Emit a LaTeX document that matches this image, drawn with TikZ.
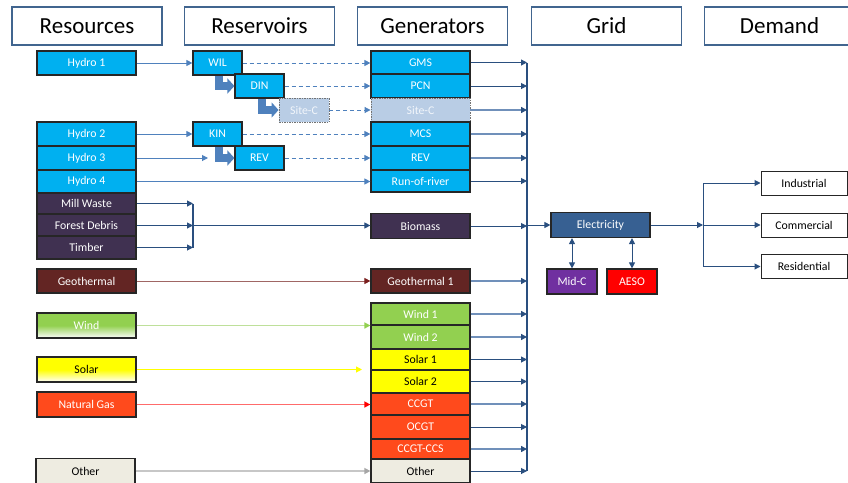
\documentclass[tikz,border=0pt]{standalone}
\usepackage{fontspec}
\setmainfont{Carlito}
\usetikzlibrary{arrows.meta}
\definecolor{hydro}{HTML}{00B0F0}
\definecolor{bio}{HTML}{403151}
\definecolor{geo}{HTML}{632523}
\definecolor{windg}{HTML}{92D050}
\definecolor{solary}{HTML}{FFFF00}
\definecolor{gas}{HTML}{FF4A1C}
\definecolor{othf}{HTML}{EEECE1}
\definecolor{sitecf}{HTML}{B9CDE5}
\definecolor{sitect}{HTML}{F2F6FB}
\definecolor{steel}{HTML}{4F81BD}
\definecolor{navy}{HTML}{2A4F7F}
\definecolor{navylt}{HTML}{7090BA}
\definecolor{headc}{HTML}{41658F}
\definecolor{elecf}{HTML}{376092}
\definecolor{midcf}{HTML}{7030A0}
\definecolor{geoline}{HTML}{A06664}
\definecolor{windline}{HTML}{BEE09A}
\definecolor{gasline}{HTML}{FF6B6B}
\begin{document}
\begin{tikzpicture}[x=1pt,y=-1pt,
  tip/.style={-{Triangle[width=6pt,length=6pt]}},
  box/.style={draw=black!85, line width=1.2pt, inner sep=0pt, minimum height=24pt,
    text=white, font=\fontsize{11.8}{13}\selectfont},
  res/.style={box, minimum width=99pt},
  gen/.style={box, minimum width=99pt},
  resv/.style={box, minimum width=49pt, fill=hydro},
  sitec/.style={fill=sitecf, draw=black!55, line width=0.9pt, dash pattern=on 1.5pt off 1pt, text=sitect},
  head/.style={draw=headc, line width=1.8pt, fill=white, minimum width=150pt,
    minimum height=38pt, inner sep=0pt, font=\fontsize{23}{26}\selectfont, text=black},
  dem/.style={draw=black!85, line width=1pt, fill=white, minimum width=86pt,
    minimum height=24pt, inner sep=0pt, font=\fontsize{11.8}{13}\selectfont},
  inln/.style={draw=steel, line width=1pt, tip},
  dsh/.style={draw=steel, line width=1pt, dashed, dash pattern=on 4pt off 3pt, tip},
  dk/.style={draw=navy, line width=1pt, -{Triangle[width=6pt,length=6pt]}},
  lt/.style={draw=navylt, line width=1.4pt, -{Triangle[width=6pt,length=6pt,color=navy]}},
  blockarrow/.style={draw=steel, line width=7.5pt, line join=miter, -{Triangle[width=15pt,length=7pt]}}
]
\useasboundingbox (0,0) rectangle (848,482);

% headers
\node[head] (hres) at (87,26) {Resources};
\node[head] (hresv) at (259.5,26) {Reservoirs};
\node[head] (hgen) at (432.5,26) {Generators};
\node[head] (hgrid) at (606.5,26) {Grid};
\node[head] (hdem) at (779.5,26) {Demand};

% resources
\node[res, fill=hydro] (h1) at (86.5,63) {Hydro 1};
\node[res, fill=hydro] (h2) at (86.5,134) {Hydro 2};
\node[res, fill=hydro] (h3) at (86.5,158) {Hydro 3};
\node[res, fill=hydro, minimum height=23pt] (h4) at (86.5,181.5) {Hydro 4};
\node[res, fill=bio, minimum height=21pt] (mill) at (86.5,203.5) {Mill Waste};
\node[res, fill=bio, minimum height=22pt] (forest) at (86.5,225.5) {Forest Debris};
\node[res, fill=bio, minimum height=23pt] (timber) at (86.5,247.5) {Timber};
\node[res, fill=geo] (geo) at (86.5,281) {Geothermal};
\node[res, top color=windg, bottom color=white, middle color=windg, minimum height=25pt] (wind) at (86.5,325.5) {Wind};
\node[res, top color=solary, bottom color=white, middle color=solary, text=black, minimum height=25pt] (solar) at (86.5,369.5) {Solar};
\node[res, fill=gas, minimum height=25pt] (gas) at (86.5,404.5) {Natural Gas};
\node[res, fill=othf, text=black, minimum height=25pt] (oth) at (85.5,471) {Other};

% reservoirs
\node[resv] (wil) at (217.5,63) {WIL};
\node[resv] (din) at (259.5,86) {DIN};
\node[resv, sitec, minimum width=50pt] (sitecr) at (304,110) {Site-C};
\node[resv] (kin) at (217.5,134) {KIN};
\node[resv] (revr) at (259.5,158) {REV};

% generators
\node[gen, fill=hydro, minimum height=23pt] (gms) at (420.5,62.5) {GMS};
\node[gen, fill=hydro] (pcn) at (420.5,86) {PCN};
\node[gen, sitec] (sitecg) at (420.5,110) {Site-C};
\node[gen, fill=hydro] (mcs) at (420.5,134) {MCS};
\node[gen, fill=hydro] (revg) at (420.5,158) {REV};
\node[gen, fill=hydro, minimum height=22pt] (ror) at (420.5,181) {Run-of-river};
\node[gen, fill=bio, minimum height=25pt] (biomass) at (420.5,226) {Biomass};
\node[gen, fill=geo] (geo1) at (420.5,281) {Geothermal 1};
\node[gen, fill=windg, minimum height=22pt] (wind1) at (420.5,314) {Wind 1};
\node[gen, fill=windg] (wind2) at (420.5,337) {Wind 2};
\node[gen, fill=solary, text=black, minimum height=21pt] (solar1) at (420.5,359.5) {Solar 1};
\node[gen, fill=solary, text=black, minimum height=23pt] (solar2) at (420.5,381.5) {Solar 2};
\node[gen, fill=gas, minimum height=22pt] (ccgt) at (420.5,404) {CCGT};
\node[gen, fill=gas] (ocgt) at (420.5,427) {OCGT};
\node[gen, fill=gas, minimum height=20pt] (ccs) at (420.5,449) {CCGT-CCS};
\node[gen, fill=othf, text=black] (othg) at (420.5,471) {Other};

% grid
\node[box, fill=elecf, minimum width=99pt, minimum height=25pt] (elec) at (600.5,225) {Electricity};
\node[box, fill=midcf, minimum width=50pt, minimum height=25pt] (midc) at (572,281.5) {Mid-C};
\node[box, fill=red, minimum width=50pt, minimum height=25pt] (aeso) at (632,281.5) {AESO};

% demand
\node[dem] (ind) at (804,183) {Industrial};
\node[dem] (com) at (804,225) {Commercial};
\node[dem] (resd) at (804,266.5) {Residential};

% coordinates
\coordinate (bus) at (527,0);
\coordinate (brx) at (193,0);
\coordinate (h3end) at (208,158);
\coordinate (solend) at (362,0);
\coordinate (split) at (703,225);

% hydro inputs
\draw[inln] (h1.east) -- (wil.west);
\draw[inln] (h2.east) -- (kin.west);
\draw[inln] (h3.east) -- (h3end);
\draw[inln] (h4.east) -- (h4.east -| ror.west);

% block arrows between reservoirs
\draw[blockarrow] ([xshift=1.5pt]wil.south) |- (din.west);
\draw[blockarrow] ([xshift=2.5pt]din.south) |- (sitecr.west);
\draw[blockarrow] ([xshift=1.5pt]kin.south) |- (revr.west);

% dashed reservoir outputs
\draw[dsh] (wil.east) -- (wil.east -| gms.west);
\draw[dsh] (din.east) -- (pcn.west);
\draw[dsh] (sitecr.east) -- (sitecg.west);
\draw[dsh] (kin.east) -- (mcs.west);
\draw[dsh] (revr.east) -- (revg.west);

% biomass bracket
\draw[navy, line width=1pt, tip] (mill.east) -- (mill.east -| brx);
\draw[navy, line width=1pt, tip] (forest.east) -- (forest.east -| brx);
\draw[navy, line width=1pt, tip] (timber.east) -- (timber.east -| brx);
\draw[navy, line width=1.8pt] (mill.east -| brx) -- (timber.east -| brx);
\draw[navy, line width=1pt, tip] (forest.east -| brx) -- (forest.east -| biomass.west);

% other resource inputs
\draw[draw=geoline, line width=1pt, -{Triangle[width=6pt,length=6pt,color=geo!85!red]}] (geo.east) -- (geo1.west);
\draw[draw=windline, line width=1.6pt, -{Triangle[width=6pt,length=6pt,color=windg]}] (wind.east) -- (wind.east -| wind2.west);
\draw[draw=solary, line width=1pt, -{Triangle[width=6pt,length=6pt,color=solary]}] (solar.east) -- (solar.east -| solend);
\draw[draw=gasline, line width=1.4pt, -{Triangle[width=6pt,length=6pt,color=red]}] (gas.east) -- (gas.east -| ccgt.west);
\draw[draw=black!22, line width=1.4pt, -{Triangle[width=6pt,length=6pt,color=black!35]}] (oth.east) -- (oth.east -| othg.west);

% generator outputs to bus
\foreach \n/\s in {gms/dk, pcn/dk, sitecg/lt, mcs/lt, revg/lt, ror/dk, biomass/dk, geo1/lt,
  wind1/lt, wind2/lt, solar1/dk, solar2/dk, ccgt/lt, ocgt/dk, ccs/lt, othg/dk}
  \draw[\s] (\n.east) -- (\n.east -| bus);
\draw[navy, line width=1.2pt] (gms.east -| bus) -- (othg.east -| bus);

% bus to electricity
\draw[dk] (elec.west -| bus) -- (elec.west);
\draw[navy, line width=1pt, {Triangle[width=6pt,length=6pt]}-{Triangle[width=6pt,length=6pt]}] (midc.north) -- (midc.north |- elec.south);
\draw[navy, line width=1pt, {Triangle[width=6pt,length=6pt]}-{Triangle[width=6pt,length=6pt]}] (aeso.north) -- (aeso.north |- elec.south);

% electricity to demand
\draw[dk] (elec.east) -- (split);
\draw[dk] (split) |- (ind.west);
\draw[dk] (split) -- (split -| com.west);
\draw[dk] (split) |- (resd.west);
\end{tikzpicture}
\end{document}
